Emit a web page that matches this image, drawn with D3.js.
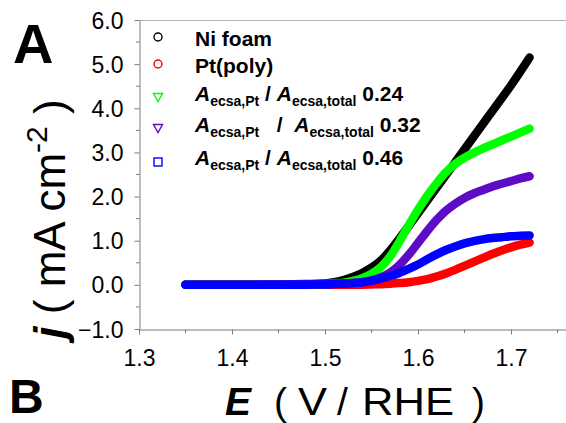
<!DOCTYPE html>
<html>
<head>
<meta charset="utf-8">
<script src="https://cdn.jsdelivr.net/npm/d3@7"></script>
<style>
  html, body { margin: 0; padding: 0; background: #fff; }
  svg { display: block; font-family: "Liberation Sans", Arial, sans-serif; }
  .pre { white-space: pre; }
</style>
</head>
<body>
<svg id="chart" width="566" height="423"></svg>
<script>
// Potential grid (V vs RHE) shared by all polarisation curves
const potential = [1.35, 1.40, 1.45, 1.48, 1.50, 1.51, 1.52, 1.53, 1.54, 1.55, 1.56, 1.57, 1.58,
  1.59, 1.60, 1.61, 1.62, 1.63, 1.64, 1.65, 1.66, 1.67, 1.68, 1.69, 1.70, 1.71, 1.72];

// Current density j (mA cm^-2) for each electrode
const niFoam = [0, 0, 0.01, 0.02, 0.03, 0.06, 0.11, 0.18, 0.27, 0.39, 0.55, 0.78, 1.05,
  1.33, 1.62, 1.91, 2.20, 2.49, 2.78, 3.07, 3.36, 3.65, 3.94, 4.23, 4.52, 4.83, 5.15];
const ptPoly = [0, 0, 0, 0, 0, 0, 0, 0, 0.005, 0.01, 0.015, 0.025, 0.04,
  0.06, 0.09, 0.13, 0.19, 0.26, 0.34, 0.43, 0.52, 0.61, 0.70, 0.78, 0.85, 0.91, 0.96];
const ratio024 = [0, 0, 0, 0.01, 0.02, 0.03, 0.05, 0.09, 0.15, 0.25, 0.40, 0.64, 0.98,
  1.35, 1.70, 2.02, 2.30, 2.55, 2.74, 2.88, 2.99, 3.09, 3.18, 3.27, 3.36, 3.45, 3.54];
const ratio032 = [0, 0, 0.01, 0.015, 0.02, 0.025, 0.03, 0.04, 0.06, 0.10, 0.17, 0.28, 0.45,
  0.68, 0.95, 1.22, 1.47, 1.68, 1.84, 1.97, 2.07, 2.15, 2.23, 2.29, 2.35, 2.41, 2.46];
const ratio046 = [0, 0, 0, 0.005, 0.01, 0.02, 0.03, 0.04, 0.06, 0.09, 0.14, 0.20, 0.27,
  0.36, 0.46, 0.58, 0.69, 0.79, 0.87, 0.94, 0.99, 1.03, 1.06, 1.08, 1.10, 1.11, 1.12];

// Axis ticks
const xMajorTicks = [1.3, 1.4, 1.5, 1.6, 1.7];
const xMinorTicks = [1.35, 1.45, 1.55, 1.65, 1.75];
const yMajorTicks = [-1, 0, 1, 2, 3, 4, 5, 6];
const yMinorTicks = [-0.5, 0.5, 1.5, 2.5, 3.5, 4.5, 5.5];

// Legend entries, in drawing order
const seriesNames = ["Ni foam", "Pt(poly)", "0.24", "0.32", "0.46"];
const seriesColors = ["#000000", "#ff0000", "#00ff00", "#5c0cc4", "#0000ff"];
const seriesSymbols = ["circle", "circle", "triangleDown", "triangleDown", "square"];
const seriesValues = [niFoam, ptPoly, ratio024, ratio032, ratio046];

const svg = d3.select("#chart");
const x = d3.scaleLinear().domain([1.3, 1.76]).range([139, 566.8]);
const y = d3.scaleLinear().domain([-1, 6]).range([329, 20]);

// Frame top edge
svg.append("line")
  .attr("x1", 139).attr("x2", 566).attr("y1", 20.5).attr("y2", 20.5)
  .attr("stroke", "#b0b0b0").attr("stroke-width", 1);

// Curves
const line = d3.line()
  .x((d, i) => x(potential[i]))
  .y(d => y(d))
  .curve(d3.curveMonotoneX);

seriesValues.forEach((vals, k) => {
  svg.append("path")
    .datum(vals)
    .attr("d", line)
    .attr("fill", "none")
    .attr("stroke", seriesColors[k])
    .attr("stroke-width", 8.5)
    .attr("stroke-linecap", "round")
    .attr("stroke-linejoin", "round");
});

// Axes
const axisColor = "#7a7a7a";
const xAxis = svg.append("g")
  .attr("transform", "translate(0,329.5)")
  .call(d3.axisBottom(x).tickValues(xMajorTicks).tickSize(5).tickSizeOuter(0)
    .tickFormat(d3.format(".1f")));
xAxis.selectAll(".tick text").attr("y", 20).attr("dy", "0.71em")
  .attr("font-size", 23).attr("fill", "#000").attr("font-family", "Liberation Sans, Arial, sans-serif");
xAxis.append("g").selectAll("line").data(xMinorTicks).join("line")
  .attr("x1", d => x(d)).attr("x2", d => x(d)).attr("y1", 0).attr("y2", 3.5)
  .attr("stroke", axisColor);

const yAxis = svg.append("g")
  .attr("transform", "translate(139.5,0)")
  .call(d3.axisLeft(y).tickValues(yMajorTicks).tickSize(5).tickSizeOuter(0)
    .tickFormat(d3.format(".1f")));
yAxis.selectAll(".tick text").attr("x", -16).attr("dy", "0.35em")
  .attr("font-size", 23).attr("fill", "#000").attr("font-family", "Liberation Sans, Arial, sans-serif");
yAxis.append("g").selectAll("line").data(yMinorTicks).join("line")
  .attr("y1", d => y(d)).attr("y2", d => y(d)).attr("x1", 0).attr("x2", -3.5)
  .attr("stroke", axisColor);

[xAxis, yAxis].forEach(g => {
  g.select(".domain").attr("stroke", axisColor);
  g.selectAll(".tick line").attr("stroke", axisColor);
});

// X axis title, set piece by piece for its wide spacing
const xt = svg.append("text").attr("y", 415).attr("font-size", 39);
xt.append("tspan").attr("x", 225).attr("font-weight", "bold").attr("font-style", "italic").text("E");
xt.append("tspan").attr("x", 274).text("(");
xt.append("tspan").attr("x", 298).attr("textLength", 29).attr("lengthAdjust", "spacingAndGlyphs").text("V");
xt.append("tspan").attr("x", 337).text("/");
xt.append("tspan").attr("x", 362).attr("textLength", 92).attr("lengthAdjust", "spacingAndGlyphs").text("RHE");
xt.append("tspan").attr("x", 472).text(")");

const yt = svg.append("text")
  .attr("class", "pre")
  .attr("transform", "translate(65,219) rotate(-90)")
  .attr("text-anchor", "middle")
  .attr("font-size", 44);
yt.append("tspan").attr("font-weight", "bold").attr("font-style", "italic").text("j");
yt.append("tspan").text(" ( mA cm");
yt.append("tspan").attr("font-size", 30).attr("dy", -18).text("-2");
yt.append("tspan").attr("dy", 18).text(" )");

// Panel letters
svg.append("text").attr("x", 13).attr("y", 63)
  .attr("font-size", 56).attr("font-weight", "bold").text("A");
svg.append("text").attr("x", 9).attr("y", 413)
  .attr("font-size", 48).attr("font-weight", "bold").text("B");

// Legend
const legendY = [37, 64, 97, 128, 162];
const baseY = [46, 73, 100.5, 131.5, 164.5];
const symbolX = 158;

seriesSymbols.forEach((s, k) => {
  const g = svg.append("g").attr("transform", `translate(${symbolX},${legendY[k]})`);
  const st = { fill: "none", stroke: seriesColors[k], "stroke-width": 1.4 };
  let el;
  if (s === "circle") el = g.append("circle").attr("r", 4);
  else if (s === "square") el = g.append("rect").attr("x", -4).attr("y", -4).attr("width", 8).attr("height", 8);
  else el = g.append("path").attr("d", "M-4.5,-3.5L4.5,-3.5L0,4.5Z");
  Object.entries(st).forEach(([a, v]) => el.attr(a, v));
});

const legendFont = 21;
seriesNames.forEach((name, k) => {
  const t = svg.append("text")
    .attr("class", "pre")
    .attr("x", 195).attr("y", baseY[k])
    .attr("font-size", legendFont).attr("font-weight", "bold");
  if (k < 2) { t.text(name); return; }
  const gap = k === 3 ? "   /  " : " / ";
  t.append("tspan").attr("font-style", "italic").text("A");
  t.append("tspan").attr("font-size", 14).attr("dy", 5).text("ecsa,Pt");
  t.append("tspan").attr("dy", -5).text(gap);
  t.append("tspan").attr("font-style", "italic").text("A");
  t.append("tspan").attr("font-size", 14).attr("dy", 5).text("ecsa,total");
  t.append("tspan").attr("dy", -5).text(" " + name);
});
</script>
</body>
</html>
